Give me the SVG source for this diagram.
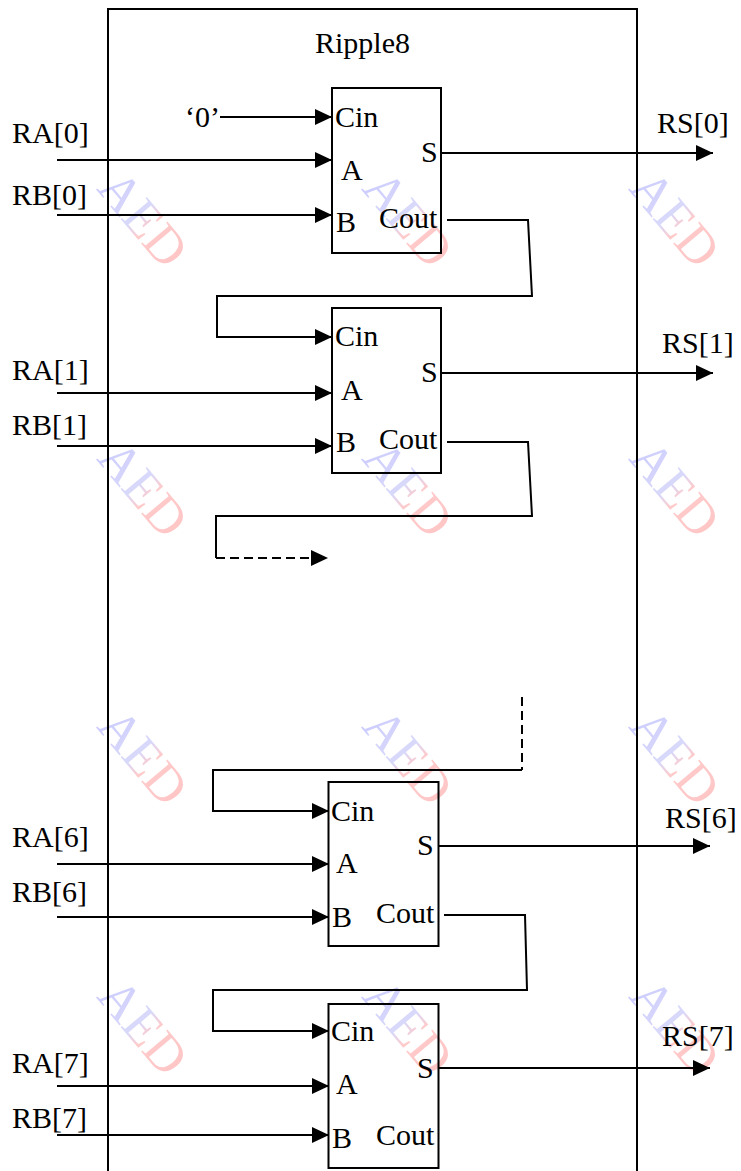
<svg xmlns="http://www.w3.org/2000/svg" width="741" height="1171" viewBox="0 0 741 1171">
<style>
text{font-family:"Liberation Serif","Times New Roman",serif;font-size:30px;fill:#000}
.ln{fill:none;stroke:#000;stroke-width:2}
.blk{fill:none;stroke:#000;stroke-width:2}
.dash{fill:none;stroke:#000;stroke-width:2;stroke-dasharray:9 5}
.wm{font-family:"Liberation Serif",serif;font-size:52px;fill:url(#wg);opacity:0.25}
</style>
<defs>
<marker id="ah" markerUnits="userSpaceOnUse" markerWidth="18" markerHeight="16" refX="17" refY="8" orient="auto">
<path d="M0,0 L17,8 L0,16 Z" fill="#000"/>
</marker>
<linearGradient id="wg" x1="0" y1="0" x2="1" y2="0">
<stop offset="0" stop-color="#3a3aff"/>
<stop offset="0.45" stop-color="#6a6af0"/>
<stop offset="0.6" stop-color="#ff3030"/>
<stop offset="1" stop-color="#ff2020"/>
</linearGradient>
</defs>
<rect width="741" height="1171" fill="#fff"/>
<g id="watermark">
<text class="wm" text-anchor="middle" transform="translate(130,230) rotate(50)">AED</text>
<text class="wm" text-anchor="middle" transform="translate(395,230) rotate(50)">AED</text>
<text class="wm" text-anchor="middle" transform="translate(662,230) rotate(50)">AED</text>
<text class="wm" text-anchor="middle" transform="translate(130,500) rotate(50)">AED</text>
<text class="wm" text-anchor="middle" transform="translate(395,500) rotate(50)">AED</text>
<text class="wm" text-anchor="middle" transform="translate(662,500) rotate(50)">AED</text>
<text class="wm" text-anchor="middle" transform="translate(130,768) rotate(50)">AED</text>
<text class="wm" text-anchor="middle" transform="translate(395,768) rotate(50)">AED</text>
<text class="wm" text-anchor="middle" transform="translate(662,768) rotate(50)">AED</text>
<text class="wm" text-anchor="middle" transform="translate(130,1038) rotate(50)">AED</text>
<text class="wm" text-anchor="middle" transform="translate(395,1038) rotate(50)">AED</text>
<text class="wm" text-anchor="middle" transform="translate(662,1038) rotate(50)">AED</text>
</g>
<g id="ripple8">
<path class="ln" d="M108,1172 V9 H637 V1172"/>
<text x="315" y="53">Ripple8</text>
</g>
<g id="adder0">
<rect class="blk" x="332" y="88" width="109" height="165"/>
<text x="335" y="127">Cin</text>
<text x="341" y="180">A</text>
<text x="421" y="162">S</text>
<text x="336" y="232">B</text>
<text x="379" y="228">Cout</text>
</g>
<g id="adder1">
<rect class="blk" x="332" y="308" width="109" height="165"/>
<text x="335" y="346">Cin</text>
<text x="341" y="400">A</text>
<text x="421" y="382">S</text>
<text x="336" y="452">B</text>
<text x="379" y="449">Cout</text>
</g>
<g id="adder6">
<rect class="blk" x="328.5" y="782" width="110" height="164"/>
<text x="331" y="821">Cin</text>
<text x="336" y="873">A</text>
<text x="417" y="855">S</text>
<text x="332" y="927">B</text>
<text x="376" y="923">Cout</text>
</g>
<g id="adder7">
<rect class="blk" x="328.5" y="1004" width="110" height="164"/>
<text x="331" y="1041">Cin</text>
<text x="336" y="1094">A</text>
<text x="417" y="1078">S</text>
<text x="332" y="1148">B</text>
<text x="376" y="1145">Cout</text>
</g>
<g id="labels">
<text x="185" y="127">‘0’</text>
<text x="12" y="143">RA[0]</text>
<text x="12" y="205">RB[0]</text>
<text x="657" y="133">RS[0]</text>
<text x="12" y="380">RA[1]</text>
<text x="12" y="435">RB[1]</text>
<text x="662" y="353">RS[1]</text>
<text x="12" y="847">RA[6]</text>
<text x="12" y="902">RB[6]</text>
<text x="665" y="828">RS[6]</text>
<text x="12" y="1073">RA[7]</text>
<text x="12" y="1128">RB[7]</text>
<text x="662" y="1046">RS[7]</text>
</g>
<g id="connectors">
<path class="ln" d="M220,117 H332" marker-end="url(#ah)"/>
<path class="ln" d="M57,160 H332" marker-end="url(#ah)"/>
<path class="ln" d="M57,215 H332" marker-end="url(#ah)"/>
<path class="ln" d="M441,153 H713" marker-end="url(#ah)"/>
<path class="ln" d="M447,220 H528 L532,296 H217 V337 H332" marker-end="url(#ah)"/>
<path class="ln" d="M57,393 H332" marker-end="url(#ah)"/>
<path class="ln" d="M57,446 H332" marker-end="url(#ah)"/>
<path class="ln" d="M441,373 H713" marker-end="url(#ah)"/>
<path class="ln" d="M447,442 H528 L532,516 H216 V558"/>
<path class="dash" d="M216,558 H328" marker-end="url(#ah)"/>
<path class="dash" d="M522,697 V770"/>
<path class="ln" d="M522,770 H213 V811 H329" marker-end="url(#ah)"/>
<path class="ln" d="M57,864 H329" marker-end="url(#ah)"/>
<path class="ln" d="M57,917 H329" marker-end="url(#ah)"/>
<path class="ln" d="M438,846 H710" marker-end="url(#ah)"/>
<path class="ln" d="M444,915 H525 L527,990 H213 V1031 H329" marker-end="url(#ah)"/>
<path class="ln" d="M57,1086 H329" marker-end="url(#ah)"/>
<path class="ln" d="M57,1135 H329" marker-end="url(#ah)"/>
<path class="ln" d="M438,1068 H710" marker-end="url(#ah)"/>
</g>
</svg>
